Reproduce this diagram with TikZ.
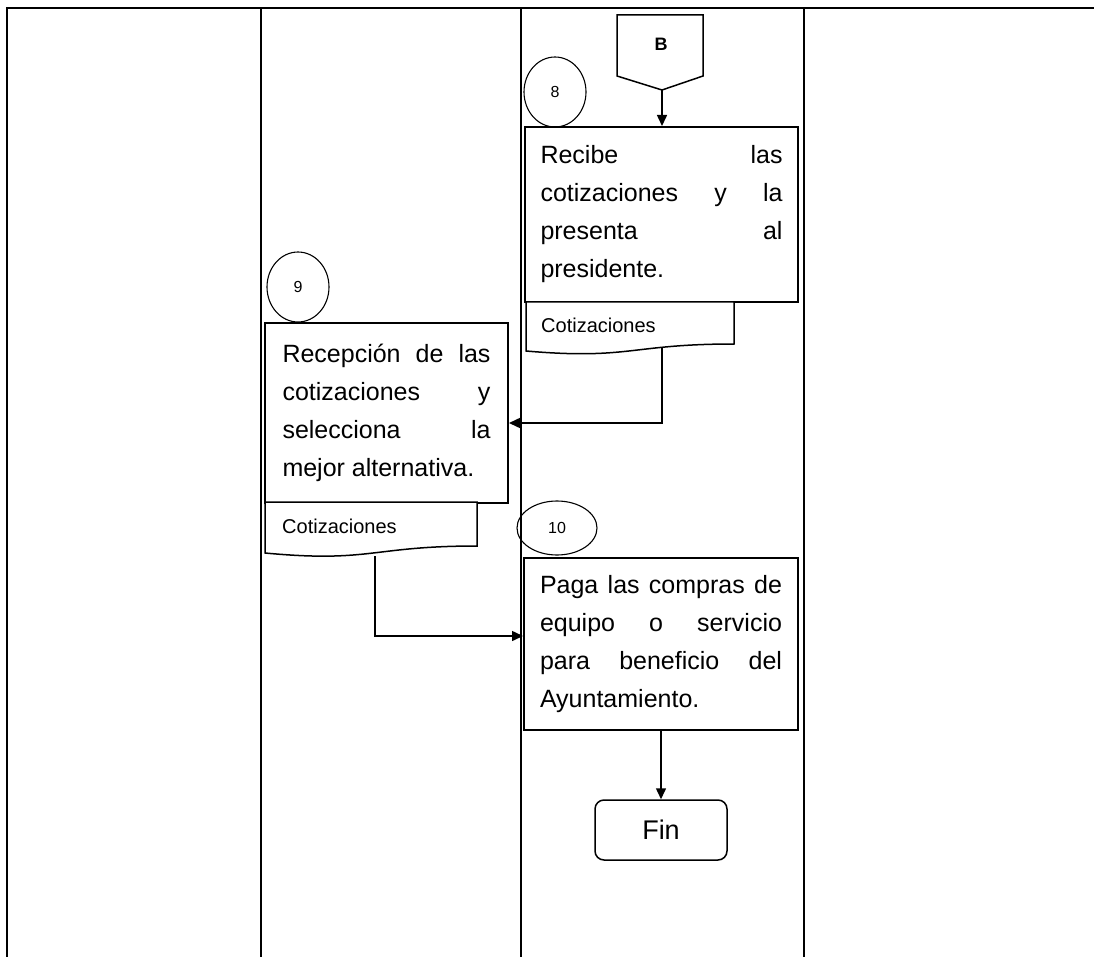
\documentclass[tikz,border=0pt]{standalone}
\usepackage{fontspec}
\setmainfont{Liberation Sans}
\usetikzlibrary{arrows.meta,shapes.geometric,calc}
\begin{document}
\begin{tikzpicture}[x=1pt,y=-1pt,
  lane/.style={line width=2.6pt},
  procbox/.style={draw,line width=2pt,inner sep=0pt,align=justify,font=\fontsize{25}{38}\selectfont},
  numcirc/.style={draw,ellipse,line width=1.1pt,inner sep=0pt,font=\fontsize{16}{16}\selectfont},
  docline/.style={line width=1.5pt},
  doctext/.style={anchor=west,inner sep=0pt,font=\fontsize{20}{20}\selectfont},
  flow/.style={line width=1.5pt,-{Triangle[length=11pt,width=10pt]}},
  endbox/.style={draw,rounded corners=9pt,line width=1.5pt,inner sep=0pt,font=\fontsize{27}{27}\selectfont}
]
\useasboundingbox (0,0) rectangle (1094,957);
\fill[white] (0,0) rectangle (1094,957);

% swimlane frame
\draw[lane] (7,957) -- (7,8) -- (1094,8);
\draw[lane] (261,8) -- (261,957);
\draw[lane] (521,8) -- (521,957);
\draw[lane] (804,8) -- (804,957);

% off-page connector B
\draw[docline] (617,15) -- (703,15) -- (703,76) -- (662,90) -- (617,76) -- cycle;
\node[font=\bfseries\fontsize{18}{18}\selectfont,inner sep=0pt] (Blbl) at (661,44) {B};
\coordinate (Btip) at (662,90);

% step 8
\node[numcirc,minimum width=62pt,minimum height=70pt] (c8) at (555,92) {8};
\node[procbox,text width=242pt,minimum width=273pt,minimum height=175pt] (b8) at (661.5,214.5)
  {Recibe las\linebreak cotizaciones y la\linebreak presenta al\linebreak presidente.};
\draw[docline,fill=white] (526,302) -- (734,302) -- (734,344)
  .. controls (630,344) and (630,360) .. (526,351) -- cycle;
\node[doctext] (d8) at (541,325) {Cotizaciones};
\coordinate (d8bot) at (662,348);

% step 9
\node[numcirc,minimum width=62pt,minimum height=70pt] (c9) at (298,287) {9};
\node[procbox,text width=208pt,minimum width=243pt,minimum height=180pt] (b9) at (386.5,413)
  {Recepción de las\linebreak cotizaciones y\linebreak selecciona la\linebreak mejor alternativa.};
\draw[docline,fill=white] (265,502) -- (477,502) -- (477,546)
  .. controls (371,546) and (371,563) .. (265,553) -- cycle;
\node[doctext] (d9) at (282,526) {Cotizaciones};
\coordinate (d9bot) at (375,556);

% step 10
\node[numcirc,minimum width=80pt,minimum height=54pt] (c10) at (557,528) {10};
\node[procbox,text width=242pt,minimum width=274pt,minimum height=172pt] (b10) at (661,644)
  {Paga las compras de\linebreak equipo o servicio\linebreak para beneficio del\linebreak Ayuntamiento.};

% end
\node[endbox,minimum width=132pt,minimum height=60pt] (fin) at (661,830) {Fin};

% connectors
\draw[flow] (Btip) -- (Btip |- b8.north);
\draw[flow] (d8bot) |- ($(b9.east)+(0,10)$);
\draw[flow] (d9bot) |- ($(b10.west)+(0,-8)$);
\draw[flow] (b10.south) -- (fin.north);
\end{tikzpicture}
\end{document}
